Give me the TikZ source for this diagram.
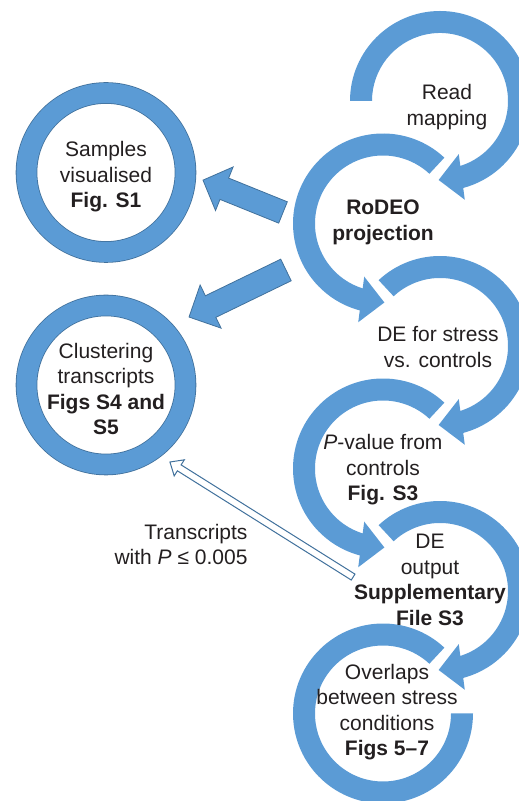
\documentclass[tikz,border=0pt]{standalone}
\usepackage{fontspec}
\setmainfont{Liberation Sans}
\usepackage{tikz}
\usetikzlibrary{calc}
\definecolor{ringblue}{HTML}{5B9BD5}
\definecolor{ringline}{HTML}{41719C}
\definecolor{inkgray}{HTML}{231F20}

% ring with a gap and an arrow head: centre, start angle, head base angle, tip angle
\newcommand{\ringarrow}[4]{%
  \pgfmathsetmacro{\ringend}{#3+3*sign(#3-#2)}
  \fill[ringblue] ($(#1)+(#2:90pt)$) arc[start angle=#2,end angle=\ringend,radius=90pt]
    -- ($(#1)+(\ringend:68pt)$) arc[start angle=\ringend,end angle=#2,radius=68pt] -- cycle;
  \coordinate (hb) at ($(#1)+(#3:79pt)$);
  \coordinate (ht) at ($(#1)+(#4:79pt)$);
  \fill[ringblue] ($(hb)!23pt!90:(ht)$) -- (ht) -- ($(hb)!23pt!-90:(ht)$) -- cycle;}

% block arrow: style, tail, tip, half shaft, half head, head length
\newcommand{\blockarrow}[6]{%
  \coordinate (hd) at ($(#3)!#6!(#2)$);
  \path[#1] ($(#2)!#4!90:(#3)$) -- ($(hd)!#4!90:(#3)$) -- ($(hd)!#5!90:(#3)$) -- (#3)
    -- ($(hd)!#5!-90:(#3)$) -- ($(hd)!#4!-90:(#3)$) -- ($(#2)!#4!-90:(#3)$) -- cycle;}

\begin{document}
\begin{tikzpicture}[x=1pt,y=1pt,
 stage/.style={align=center,text=inkgray,font=\fontsize{21}{25.5}\selectfont},
 side/.style={stage,circle,minimum size=180pt,inner sep=0pt},
 sidering/.style={draw=ringline,line width=0.8pt,double=ringblue,double distance=20pt},
 fat/.style={fill=ringblue,draw=ringline,line width=0.8pt},
 thin/.style={fill=white,draw=ringline,line width=1pt}
]
\useasboundingbox (0,0) rectangle (519,801);
\clip (0,0) rectangle (519,801);

% ring centres
\coordinate (read) at (440,700);
\coordinate (rodeo) at (383,577.5);
\coordinate (destress) at (440,455);
\coordinate (pval) at (383,332.5);
\coordinate (deout) at (440,210);
\coordinate (overlap) at (383,87.5);

\ringarrow{read}{180}{-74}{-91}
\ringarrow{rodeo}{47}{254}{271}
\ringarrow{destress}{133}{-74}{-91}
\ringarrow{pval}{47}{254}{271}
\ringarrow{deout}{133}{-74}{-91}
\fill[ringblue] ($(overlap)+(47:90pt)$) arc[start angle=47,end angle=360,radius=90pt]
  -- ($(overlap)+(0:68pt)$) arc[start angle=360,end angle=47,radius=68pt] -- cycle;

\node[stage] (readlbl) at ($(read)+(7,-6)$) {Read\\mapping};
\node[stage,font=\fontsize{21}{25.5}\selectfont\bfseries] (rodeolbl) at ($(rodeo)+(0,1)$) {RoDEO\\projection};
\node[stage] (destresslbl) at ($(destress)+(-2,-1)$) {DE for stress\\vs. controls};
\node[stage] (pvallbl) at ($(pval)+(0,-1.5)$) {\textit{P}-value from\\controls\\\textbf{Fig. S3}};
\node[stage] (deoutlbl) at ($(deout)+(-10,11)$) {DE\\output\\\textbf{Supplementary}\\\textbf{File S3}};
\node[stage] (overlaplbl) at ($(overlap)+(4,1.5)$) {Overlaps\\between stress\\conditions\\\textbf{Figs 5--7}};

\node[side] (samples) at (106,624) {Samples\\visualised\\\textbf{Fig. S1}};
\node[side] (cluster) at (106,412) {Clustering\\transcripts\\\textbf{Figs S4 and}\\\textbf{S5}};
\draw[sidering] ($(samples)+(0,4.5)$) circle[radius=79.5pt];
\draw[sidering] ($(cluster)+(0,4)$) circle[radius=79.5pt];

\coordinate (a1t) at ($(rodeo)+(173.7:100.6pt)$);
\coordinate (a1h) at ($(samples)+(0,4.5)+(-4.5:97.3pt)$);
\coordinate (a2t) at ($(rodeo)+(205.6:107.6pt)$);
\coordinate (a2h) at ($(cluster)+(0,4)+(39.3:107.3pt)$);
\coordinate (a3t) at ($(deout)+(170.9:88pt)$);
\coordinate (a3h) at ($(cluster)+(0,4)+(-50.3:100.1pt)$);
\blockarrow{fat}{a1t}{a1h}{11.5pt}{23.5pt}{23pt}
\blockarrow{fat}{a2t}{a2h}{12pt}{24pt}{24pt}
\blockarrow{thin}{a3t}{a3h}{3.5pt}{9.5pt}{11pt}

\node[stage,align=right,anchor=east] (cutoff) at (251,256.5) {Transcripts\\with \textit{P} ≤ 0.005};
\end{tikzpicture}
\end{document}
